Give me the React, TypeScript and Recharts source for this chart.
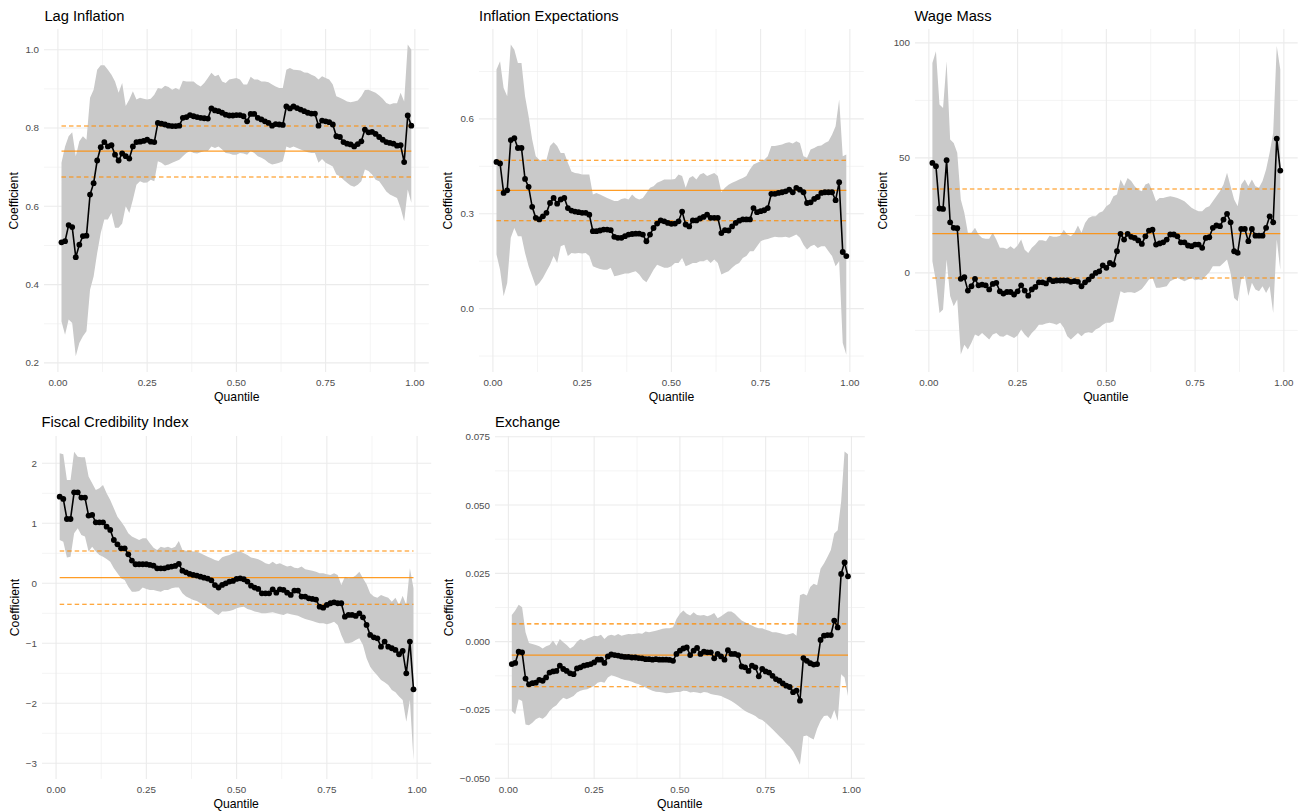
import React from 'react';
import { ComposedChart, Area, Line, XAxis, YAxis, CartesianGrid } from 'recharts';

const FONT = '"Liberation Sans", Arial, Helvetica, sans-serif';
const ORANGE = '#FF8C00';
const RIBBON = '#C9C9C9';
const GRID = '#EBEBEB';
const TICK = '#4D4D4D';

// quantiles estimated (x axis)
const quantiles = [
  0.01, 0.02, 0.03, 0.04, 0.05, 0.06, 0.07, 0.08, 0.09, 0.1,
  0.11, 0.12, 0.13, 0.14, 0.15, 0.16, 0.17, 0.18, 0.19, 0.2,
  0.21, 0.22, 0.23, 0.24, 0.25, 0.26, 0.27, 0.28, 0.29, 0.3,
  0.31, 0.32, 0.33, 0.34, 0.35, 0.36, 0.37, 0.38, 0.39, 0.4,
  0.41, 0.42, 0.43, 0.44, 0.45, 0.46, 0.47, 0.48, 0.49, 0.5,
  0.51, 0.52, 0.53, 0.54, 0.55, 0.56, 0.57, 0.58, 0.59, 0.6,
  0.61, 0.62, 0.63, 0.64, 0.65, 0.66, 0.67, 0.68, 0.69, 0.7,
  0.71, 0.72, 0.73, 0.74, 0.75, 0.76, 0.77, 0.78, 0.79, 0.8,
  0.81, 0.82, 0.83, 0.84, 0.85, 0.86, 0.87, 0.88, 0.89, 0.9,
  0.91, 0.92, 0.93, 0.94, 0.95, 0.96, 0.97, 0.98, 0.99,
];

const xMajor = [0, 0.25, 0.5, 0.75, 1];
const xMinor = [0.125, 0.375, 0.625, 0.875];

// --- Lag Inflation ---
const lagCoef = [
  0.508, 0.511, 0.552, 0.547, 0.470, 0.502, 0.524, 0.525, 0.630, 0.659,
  0.717, 0.751, 0.764, 0.753, 0.756, 0.732, 0.717, 0.735, 0.728, 0.722,
  0.753, 0.764, 0.765, 0.767, 0.770, 0.765, 0.764, 0.813, 0.811, 0.809,
  0.806, 0.805, 0.805, 0.806, 0.826, 0.828, 0.833, 0.830, 0.828, 0.826,
  0.825, 0.824, 0.850, 0.845, 0.843, 0.839, 0.834, 0.832, 0.832, 0.833,
  0.833, 0.830, 0.817, 0.836, 0.836, 0.826, 0.822, 0.817, 0.813, 0.806,
  0.810, 0.809, 0.808, 0.855, 0.850, 0.855, 0.851, 0.847, 0.843, 0.839,
  0.837, 0.837, 0.806, 0.819, 0.817, 0.815, 0.809, 0.779, 0.777, 0.764,
  0.760, 0.758, 0.753, 0.759, 0.766, 0.796, 0.789, 0.790, 0.785, 0.777,
  0.770, 0.764, 0.762, 0.760, 0.755, 0.756, 0.713, 0.832, 0.806,
];
const lagHi = [
  0.711, 0.753, 0.779, 0.789, 0.728, 0.766, 0.779, 0.770, 0.877, 0.898,
  0.949, 0.960, 0.960, 0.949, 0.936, 0.919, 0.890, 0.915, 0.856, 0.873,
  0.894, 0.873, 0.877, 0.875, 0.873, 0.875, 0.885, 0.902, 0.900, 0.908,
  0.905, 0.898, 0.902, 0.898, 0.921, 0.919, 0.919, 0.919, 0.911, 0.906,
  0.915, 0.928, 0.941, 0.932, 0.936, 0.919, 0.915, 0.924, 0.926, 0.928,
  0.924, 0.911, 0.911, 0.931, 0.924, 0.924, 0.919, 0.919, 0.917, 0.911,
  0.906, 0.902, 0.902, 0.949, 0.953, 0.949, 0.948, 0.947, 0.942, 0.941,
  0.936, 0.932, 0.924, 0.932, 0.928, 0.924, 0.911, 0.881, 0.877, 0.873,
  0.868, 0.866, 0.868, 0.870, 0.881, 0.897, 0.898, 0.894, 0.890, 0.883,
  0.875, 0.864, 0.860, 0.863, 0.863, 0.890, 0.868, 1.013, 1.000,
];
const lagLo = [
  0.306, 0.272, 0.311, 0.302, 0.217, 0.251, 0.268, 0.281, 0.387, 0.421,
  0.481, 0.532, 0.566, 0.566, 0.583, 0.545, 0.545, 0.556, 0.600, 0.583,
  0.617, 0.655, 0.664, 0.660, 0.661, 0.668, 0.664, 0.715, 0.711, 0.704,
  0.707, 0.711, 0.715, 0.719, 0.728, 0.736, 0.741, 0.736, 0.735, 0.738,
  0.741, 0.741, 0.753, 0.749, 0.753, 0.745, 0.736, 0.735, 0.732, 0.732,
  0.736, 0.735, 0.732, 0.741, 0.736, 0.728, 0.724, 0.719, 0.711, 0.707,
  0.709, 0.711, 0.715, 0.753, 0.749, 0.753, 0.749, 0.745, 0.741, 0.738,
  0.736, 0.736, 0.711, 0.721, 0.711, 0.707, 0.702, 0.681, 0.677, 0.668,
  0.660, 0.653, 0.650, 0.655, 0.664, 0.694, 0.690, 0.681, 0.668, 0.664,
  0.651, 0.638, 0.630, 0.626, 0.621, 0.596, 0.562, 0.643, 0.609,
];
const lagOls = [0.675, 0.741, 0.805]; // lower CI, estimate, upper CI
const lagTicks = [0.2, 0.4, 0.6, 0.8, 1.0];
const lagMinor = [0.3, 0.5, 0.7, 0.9];

// --- Inflation Expectations ---
const expCoef = [
  0.464, 0.459, 0.366, 0.374, 0.533, 0.539, 0.508, 0.508, 0.410, 0.385,
  0.322, 0.287, 0.282, 0.292, 0.303, 0.334, 0.350, 0.332, 0.345, 0.350,
  0.318, 0.310, 0.307, 0.305, 0.303, 0.303, 0.297, 0.245, 0.245, 0.247,
  0.250, 0.250, 0.248, 0.227, 0.224, 0.224, 0.229, 0.234, 0.236, 0.237,
  0.237, 0.234, 0.213, 0.234, 0.255, 0.269, 0.279, 0.276, 0.271, 0.268,
  0.269, 0.276, 0.307, 0.266, 0.260, 0.279, 0.279, 0.285, 0.290, 0.297,
  0.287, 0.287, 0.287, 0.239, 0.248, 0.247, 0.260, 0.271, 0.278, 0.282,
  0.282, 0.282, 0.318, 0.305, 0.308, 0.311, 0.318, 0.363, 0.363, 0.366,
  0.368, 0.371, 0.376, 0.368, 0.382, 0.376, 0.368, 0.334, 0.336, 0.347,
  0.353, 0.366, 0.368, 0.368, 0.368, 0.343, 0.400, 0.179, 0.166,
];
const expHi = [
  0.756, 0.782, 0.698, 0.672, 0.835, 0.819, 0.777, 0.777, 0.672, 0.608,
  0.535, 0.482, 0.471, 0.466, 0.471, 0.514, 0.526, 0.514, 0.492, 0.492,
  0.461, 0.434, 0.429, 0.427, 0.424, 0.424, 0.424, 0.361, 0.366, 0.361,
  0.355, 0.350, 0.345, 0.340, 0.340, 0.347, 0.349, 0.345, 0.361, 0.350,
  0.345, 0.350, 0.366, 0.382, 0.387, 0.398, 0.403, 0.408, 0.408, 0.408,
  0.410, 0.424, 0.419, 0.382, 0.413, 0.419, 0.408, 0.424, 0.429, 0.419,
  0.424, 0.429, 0.419, 0.368, 0.382, 0.392, 0.398, 0.403, 0.408, 0.413,
  0.419, 0.440, 0.456, 0.461, 0.466, 0.471, 0.482, 0.514, 0.514, 0.517,
  0.519, 0.524, 0.526, 0.522, 0.529, 0.524, 0.482, 0.477, 0.503, 0.508,
  0.514, 0.516, 0.524, 0.529, 0.550, 0.577, 0.661, 0.482, 0.487,
];
const expLo = [
  0.171, 0.123, 0.039, 0.081, 0.224, 0.255, 0.229, 0.229, 0.176, 0.134,
  0.102, 0.071, 0.081, 0.097, 0.118, 0.139, 0.166, 0.144, 0.197, 0.202,
  0.166, 0.176, 0.174, 0.176, 0.174, 0.176, 0.166, 0.134, 0.129, 0.125,
  0.123, 0.123, 0.129, 0.102, 0.105, 0.108, 0.111, 0.111, 0.115, 0.118,
  0.108, 0.092, 0.083, 0.102, 0.123, 0.139, 0.134, 0.129, 0.129, 0.134,
  0.144, 0.144, 0.160, 0.134, 0.139, 0.144, 0.144, 0.150, 0.150, 0.155,
  0.144, 0.155, 0.144, 0.108, 0.113, 0.118, 0.129, 0.139, 0.144, 0.160,
  0.166, 0.181, 0.181, 0.197, 0.213, 0.218, 0.220, 0.224, 0.227, 0.226,
  0.226, 0.227, 0.224, 0.229, 0.234, 0.224, 0.202, 0.187, 0.197, 0.202,
  0.192, 0.197, 0.197, 0.181, 0.166, 0.134, 0.150, -0.109, -0.146,
];
const expOls = [0.278, 0.374, 0.469];
const expTicks = [0, 0.3, 0.6];
const expMinor = [-0.15, 0.15, 0.45, 0.75];

// --- Wage Mass ---
const wageCoef = [
  47.8, 46.4, 28.0, 27.8, 49.0, 22.0, 19.6, 19.4, -2.6, -1.9,
  -7.7, -5.8, -2.6, -5.4, -5.1, -5.4, -7.2, -4.8, -4.3, -8.0,
  -9.0, -8.3, -8.3, -9.4, -8.0, -5.4, -7.7, -9.9, -7.2, -6.1,
  -4.1, -4.1, -4.6, -2.9, -3.6, -3.3, -3.3, -3.3, -3.3, -3.9,
  -3.6, -3.9, -5.8, -4.1, -2.9, -1.4, 0.0, 0.7, 3.3, 2.2,
  4.3, 3.6, 9.4, 17.0, 14.5, 17.0, 15.7, 15.2, 14.1, 12.6,
  15.9, 18.4, 18.8, 12.3, 12.8, 13.3, 14.5, 16.7, 16.7, 15.9,
  13.3, 13.3, 11.9, 11.6, 12.3, 12.3, 10.9, 15.2, 15.5, 19.6,
  20.6, 20.3, 23.2, 25.7, 22.0, 9.4, 8.7, 19.1, 19.1, 13.8,
  19.1, 16.2, 16.2, 16.2, 19.6, 24.6, 22.0, 58.4, 44.5,
];
const wageHi = [
  91.3, 96.4, 73.2, 71.7, 92.0, 58.0, 56.5, 52.2, 31.9, 26.1,
  17.4, 17.4, 19.6, 16.7, 15.2, 14.8, 14.8, 17.4, 14.5, 10.9,
  10.9, 10.4, 11.6, 10.4, 11.9, 14.5, 10.1, 8.7, 10.9, 12.3,
  14.2, 14.2, 13.8, 16.2, 15.7, 15.7, 16.2, 18.8, 16.7, 15.9,
  17.4, 20.6, 17.4, 21.7, 23.9, 24.6, 24.6, 26.1, 26.8, 29.0,
  30.1, 33.3, 34.1, 40.6, 37.7, 41.3, 39.9, 37.7, 36.2, 35.5,
  38.4, 39.1, 35.5, 31.2, 32.6, 32.6, 33.0, 33.3, 33.0, 32.6,
  31.9, 31.2, 29.7, 28.3, 27.5, 26.8, 26.8, 28.3, 29.0, 31.2,
  33.3, 35.5, 38.4, 43.5, 37.7, 31.9, 29.0, 38.4, 40.6, 37.7,
  40.6, 37.7, 37.0, 39.9, 44.9, 52.2, 60.9, 98.6, 88.4,
];
const wageLo = [
  5.1, -3.6, -17.4, -15.9, 5.8, -10.1, -14.5, -11.6, -35.5, -31.2,
  -33.3, -30.4, -26.8, -27.5, -26.1, -27.5, -29.0, -26.8, -26.1, -27.5,
  -27.8, -26.8, -27.5, -28.3, -27.2, -24.6, -26.8, -28.3, -26.1, -24.6,
  -22.5, -22.5, -22.0, -21.7, -22.0, -22.5, -21.7, -23.9, -27.5, -29.0,
  -27.5, -26.1, -27.5, -26.1, -25.8, -26.1, -24.6, -23.9, -22.5, -21.7,
  -21.7, -21.0, -14.5, -8.0, -8.7, -8.4, -8.4, -8.7, -8.0, -7.0,
  -5.1, -2.9, -2.2, -6.5, -6.5, -6.1, -5.8, -3.6, -2.9, -2.2,
  -2.9, -3.6, -2.9, -2.2, -3.2, -2.9, -3.2, -1.4, 0.3, 2.9,
  2.9, 2.9, 4.3, 5.8, 0.0, -10.9, -12.3, -2.9, -1.4, -10.1,
  -4.3, -7.2, -8.0, -5.8, -8.7, -5.8, -17.4, 14.5, 1.4,
];
const wageOls = [-2.2, 17.1, 36.5];
const wageTicks = [0, 50, 100];
const wageMinor = [-25, 25, 75];

// --- Fiscal Credibility Index ---
const fiscalCoef = [
  1.444, 1.406, 1.072, 1.072, 1.517, 1.517, 1.428, 1.428, 1.128, 1.139,
  1.017, 1.017, 1.017, 0.944, 0.889, 0.722, 0.650, 0.583, 0.583, 0.483,
  0.378, 0.317, 0.317, 0.317, 0.317, 0.306, 0.294, 0.250, 0.250, 0.250,
  0.267, 0.278, 0.289, 0.322, 0.211, 0.183, 0.156, 0.139, 0.128, 0.111,
  0.094, 0.078, 0.050, -0.030, -0.070, -0.028, 0.000, 0.028, 0.039, 0.072,
  0.083, 0.067, 0.028, -0.039, -0.072, -0.094, -0.167, -0.167, -0.167, -0.100,
  -0.156, -0.100, -0.111, -0.156, -0.194, -0.122, -0.122, -0.222, -0.222, -0.250,
  -0.261, -0.272, -0.389, -0.406, -0.361, -0.333, -0.317, -0.333, -0.333, -0.556,
  -0.528, -0.528, -0.544, -0.500, -0.567, -0.694, -0.861, -0.900, -0.917, -1.056,
  -0.972, -1.056, -1.083, -1.111, -1.183, -1.128, -1.500, -0.972, -1.767,
];
const fiscalHi = [
  2.167, 2.150, 1.722, 1.722, 2.194, 2.111, 2.100, 2.100, 1.778, 1.667,
  1.556, 1.583, 1.639, 1.500, 1.389, 1.250, 1.111, 1.028, 0.944, 0.833,
  0.778, 0.750, 0.722, 0.750, 0.750, 0.667, 0.594, 0.556, 0.611, 0.594,
  0.611, 0.583, 0.611, 0.706, 0.556, 0.544, 0.544, 0.528, 0.528, 0.500,
  0.472, 0.444, 0.417, 0.389, 0.372, 0.433, 0.456, 0.472, 0.500, 0.528,
  0.528, 0.500, 0.472, 0.428, 0.417, 0.400, 0.372, 0.333, 0.317, 0.361,
  0.317, 0.333, 0.306, 0.278, 0.294, 0.261, 0.250, 0.278, 0.233, 0.222,
  0.211, 0.194, 0.167, 0.167, 0.150, 0.139, 0.167, 0.139, -0.028, 0.111,
  0.083, 0.094, 0.128, 0.194, 0.083, -0.017, -0.167, -0.222, -0.239, -0.194,
  -0.222, -0.239, -0.306, -0.239, -0.361, -0.206, -0.361, 0.250, -0.083,
];
const fiscalLo = [
  0.722, 0.694, 0.428, 0.444, 0.833, 0.917, 0.806, 0.778, 0.528, 0.611,
  0.528, 0.472, 0.444, 0.406, 0.361, 0.250, 0.167, 0.083, 0.056, -0.056,
  -0.139, -0.139, -0.128, -0.072, -0.094, -0.111, -0.111, -0.128, -0.139, -0.111,
  -0.111, -0.083, -0.072, -0.072, -0.167, -0.222, -0.250, -0.278, -0.294, -0.333,
  -0.361, -0.417, -0.444, -0.500, -0.528, -0.472, -0.472, -0.461, -0.444, -0.417,
  -0.400, -0.389, -0.428, -0.444, -0.472, -0.483, -0.500, -0.500, -0.489, -0.483,
  -0.500, -0.517, -0.528, -0.500, -0.517, -0.528, -0.539, -0.572, -0.594, -0.611,
  -0.628, -0.650, -0.667, -0.667, -0.683, -0.667, -0.639, -0.694, -0.861, -1.000,
  -1.000, -0.983, -0.944, -0.917, -1.028, -1.250, -1.389, -1.472, -1.539, -1.611,
  -1.650, -1.694, -1.778, -1.817, -1.889, -1.944, -2.306, -1.944, -2.950,
];
const fiscalOls = [-0.35, 0.094, 0.539];
const fiscalTicks = [-3, -2, -1, 0, 1, 2];
const fiscalMinor = [-2.5, -1.5, -0.5, 0.5, 1.5];

// --- Exchange ---
const fxCoef = [
  -0.0082, -0.0078, -0.0037, -0.0039, -0.0135, -0.0156, -0.0152, -0.0150, -0.0140, -0.0143,
  -0.0131, -0.0113, -0.0109, -0.0107, -0.0088, -0.0100, -0.0107, -0.0116, -0.0119, -0.0098,
  -0.0094, -0.0088, -0.0085, -0.0082, -0.0076, -0.0066, -0.0066, -0.0078, -0.0054, -0.0047,
  -0.0049, -0.0051, -0.0054, -0.0056, -0.0056, -0.0058, -0.0058, -0.0060, -0.0061, -0.0064,
  -0.0064, -0.0066, -0.0064, -0.0066, -0.0066, -0.0066, -0.0067, -0.0070, -0.0045, -0.0033,
  -0.0025, -0.0021, -0.0049, -0.0033, -0.0023, -0.0045, -0.0037, -0.0039, -0.0039, -0.0061,
  -0.0045, -0.0054, -0.0066, -0.0031, -0.0045, -0.0045, -0.0049, -0.0091, -0.0094, -0.0107,
  -0.0088, -0.0094, -0.0127, -0.0100, -0.0109, -0.0113, -0.0125, -0.0137, -0.0143, -0.0153,
  -0.0161, -0.0166, -0.0185, -0.0179, -0.0216, -0.0060, -0.0070, -0.0079, -0.0084, -0.0082,
  0.0006, 0.0022, 0.0024, 0.0024, 0.0077, 0.0052, 0.0248, 0.0290, 0.0239,
];
const fxHi = [
  0.0098, 0.0114, 0.0135, 0.0126, 0.0034, -0.0005, -0.0009, -0.0012, -0.0017, -0.0025,
  -0.0017, -0.0012, 0.0004, -0.0015, 0.0010, -0.0002, -0.0012, -0.0025, -0.0017, 0.0000,
  0.0010, 0.0004, 0.0012, 0.0016, 0.0022, 0.0020, 0.0025, 0.0010, 0.0022, 0.0025,
  0.0022, 0.0028, 0.0022, 0.0025, 0.0028, 0.0027, 0.0029, 0.0031, 0.0029, 0.0037,
  0.0034, 0.0037, 0.0040, 0.0044, 0.0047, 0.0049, 0.0049, 0.0053, 0.0083, 0.0102,
  0.0114, 0.0102, 0.0096, 0.0108, 0.0098, 0.0096, 0.0098, 0.0093, 0.0098, 0.0105,
  0.0086, 0.0093, 0.0102, 0.0110, 0.0110, 0.0102, 0.0089, 0.0077, 0.0071, 0.0065,
  0.0059, 0.0053, 0.0049, 0.0049, 0.0044, 0.0040, 0.0034, 0.0034, 0.0032, 0.0028,
  0.0025, 0.0028, 0.0032, 0.0022, 0.0170, 0.0175, 0.0169, 0.0200, 0.0212, 0.0206,
  0.0267, 0.0286, 0.0310, 0.0335, 0.0396, 0.0408, 0.0512, 0.0696, 0.0686,
];
const fxLo = [
  -0.0254, -0.0266, -0.0211, -0.0217, -0.0303, -0.0306, -0.0297, -0.0284, -0.0278, -0.0282,
  -0.0272, -0.0254, -0.0241, -0.0233, -0.0217, -0.0205, -0.0211, -0.0205, -0.0199, -0.0186,
  -0.0180, -0.0176, -0.0174, -0.0168, -0.0162, -0.0150, -0.0147, -0.0150, -0.0131, -0.0123,
  -0.0127, -0.0131, -0.0137, -0.0140, -0.0143, -0.0147, -0.0152, -0.0156, -0.0162, -0.0168,
  -0.0174, -0.0180, -0.0183, -0.0184, -0.0186, -0.0189, -0.0188, -0.0186, -0.0184, -0.0184,
  -0.0180, -0.0181, -0.0186, -0.0184, -0.0186, -0.0189, -0.0184, -0.0186, -0.0192, -0.0194,
  -0.0196, -0.0199, -0.0205, -0.0211, -0.0217, -0.0225, -0.0235, -0.0245, -0.0254, -0.0260,
  -0.0266, -0.0272, -0.0282, -0.0287, -0.0297, -0.0309, -0.0321, -0.0333, -0.0346, -0.0358,
  -0.0373, -0.0385, -0.0401, -0.0425, -0.0450, -0.0346, -0.0343, -0.0352, -0.0358, -0.0319,
  -0.0290, -0.0272, -0.0270, -0.0284, -0.0250, -0.0290, -0.0119, -0.0131, -0.0199,
];
const fxOls = [-0.0165, -0.0049, 0.0065];
const fxTicks = [-0.05, -0.025, 0, 0.025, 0.05, 0.075];
const fxMinor = [-0.0375, -0.0125, 0.0125, 0.0375, 0.0625];

interface Box { left: number; top: number; width: number; height: number }

interface PanelProps {
  title: string;
  box: Box;
  labelX: number; // baseline x of the rotated "Coefficient" title
  domain: [number, number];
  yTicks: number[];
  yMinor: number[];
  digits: number;
  coef: number[];
  lo: number[];
  hi: number[];
  ols: number[];
}

const YW = 60;
const XH = 40;
const PAD_TOP = 10;
const PAD_RIGHT = 5;

const fmt = (d: number) => (v: number) => (v < 0 ? '\u2212' : '') + Math.abs(v).toFixed(d);

const Panel: React.FC<PanelProps> = ({ box, domain, yTicks, yMinor, digits, coef, lo, hi, ols }) => {
  const data = quantiles.map((q, i) => ({
    q,
    coef: coef[i],
    band: [lo[i], hi[i]],
    olsLo: ols[0],
    olsEst: ols[1],
    olsHi: ols[2],
  }));
  const tickStyle = { fill: TICK, fontSize: 9.8, fontFamily: FONT };

  return (
    <div style={{ position: 'absolute', left: box.left - YW, top: box.top - PAD_TOP }}>
      <ComposedChart
        width={box.width + YW + PAD_RIGHT}
        height={box.height + PAD_TOP + XH}
        data={data}
        margin={{ top: PAD_TOP, right: PAD_RIGHT, bottom: 0, left: 0 }}
      >
        <CartesianGrid stroke={GRID} strokeWidth={0.55} horizontalValues={yMinor} verticalValues={xMinor} />
        <CartesianGrid stroke={GRID} strokeWidth={1.1} horizontalValues={yTicks} verticalValues={xMajor} />
        <XAxis
          type="number"
          dataKey="q"
          domain={[-0.039, 1.039]}
          ticks={xMajor}
          tickFormatter={fmt(2)}
          axisLine={false}
          tickLine={false}
          tickSize={0}
          tickMargin={7}
          height={XH}
          interval={0}
          allowDataOverflow
          tick={tickStyle}
        />
        <YAxis
          type="number"
          domain={domain}
          ticks={yTicks}
          tickFormatter={fmt(digits)}
          axisLine={false}
          tickLine={false}
          tickSize={0}
          tickMargin={5}
          width={YW}
          interval={0}
          allowDataOverflow
          tick={tickStyle}
        />
        <Area type="linear" dataKey="band" stroke="none" fill={RIBBON} fillOpacity={1} dot={false} activeDot={false} isAnimationActive={false} />
        <Line type="linear" dataKey="olsHi" stroke={ORANGE} strokeWidth={1.1} strokeDasharray="4.5 3" dot={false} activeDot={false} isAnimationActive={false} />
        <Line type="linear" dataKey="olsLo" stroke={ORANGE} strokeWidth={1.1} strokeDasharray="4.5 3" dot={false} activeDot={false} isAnimationActive={false} />
        <Line type="linear" dataKey="olsEst" stroke={ORANGE} strokeOpacity={0.85} strokeWidth={1.3} dot={false} activeDot={false} isAnimationActive={false} />
        <Line
          type="linear"
          dataKey="coef"
          stroke="#000"
          strokeWidth={1.6}
          dot={{ r: 2.9, fill: '#000', stroke: '#000', strokeWidth: 0 }}
          activeDot={false}
          isAnimationActive={false}
        />
      </ComposedChart>
    </div>
  );
};

const panels: PanelProps[] = [
  {
    title: 'Lag Inflation',
    box: { left: 44.4, top: 29.4, width: 384.8, height: 343 },
    labelX: 18.3,
    domain: [0.1768, 1.0529],
    yTicks: lagTicks, yMinor: lagMinor, digits: 1,
    coef: lagCoef, lo: lagLo, hi: lagHi, ols: lagOls,
  },
  {
    title: 'Inflation Expectations',
    box: { left: 479.1, top: 29.4, width: 384.8, height: 343 },
    labelX: 452.3,
    domain: [-0.2005, 0.8843],
    yTicks: expTicks, yMinor: expMinor, digits: 1,
    coef: expCoef, lo: expLo, hi: expHi, ols: expOls,
  },
  {
    title: 'Wage Mass',
    box: { left: 914.5, top: 29.4, width: 382.7, height: 343 },
    labelX: 886.7,
    domain: [-43.09, 106.04],
    yTicks: wageTicks, yMinor: wageMinor, digits: 0,
    coef: wageCoef, lo: wageLo, hi: wageHi, ols: wageOls,
  },
  {
    title: 'Fiscal Credibility Index',
    box: { left: 41.6, top: 436, width: 389.2, height: 343 },
    labelX: 19.3,
    domain: [-3.262, 2.455],
    yTicks: fiscalTicks, yMinor: fiscalMinor, digits: 0,
    coef: fiscalCoef, lo: fiscalLo, hi: fiscalHi, ols: fiscalOls,
  },
  {
    title: 'Exchange',
    box: { left: 494.9, top: 436, width: 369.8, height: 343 },
    labelX: 453.3,
    domain: [-0.05026, 0.07526],
    yTicks: fxTicks, yMinor: fxMinor, digits: 3,
    coef: fxCoef, lo: fxLo, hi: fxHi, ols: fxOls,
  },
];

export default function App() {
  return (
    <div style={{ position: 'relative', width: 1308, height: 811, background: '#fff', fontFamily: FONT }}>
      <style>{'body{margin:0}'}</style>
      {panels.map((p) => (
        <Panel key={p.title} {...p} />
      ))}
      <svg width={1308} height={811} style={{ position: 'absolute', left: 0, top: 0, pointerEvents: 'none' }}>
        {panels.map((p) => {
          const { box } = p;
          const cy = box.top + box.height / 2;
          return (
            <g key={p.title} fontFamily={FONT}>
              <text x={box.left} y={box.top - 8.7} fontSize={14.7} fill="#000">
                {p.title}
              </text>
              <text x={box.left + box.width / 2} y={box.top + box.height + 28.6} fontSize={12.2} fill="#000" textAnchor="middle">
                Quantile
              </text>
              <text transform={`translate(${p.labelX}, ${cy}) rotate(-90)`} fontSize={12.2} fill="#000" textAnchor="middle">
                Coefficient
              </text>
            </g>
          );
        })}
      </svg>
    </div>
  );
}
